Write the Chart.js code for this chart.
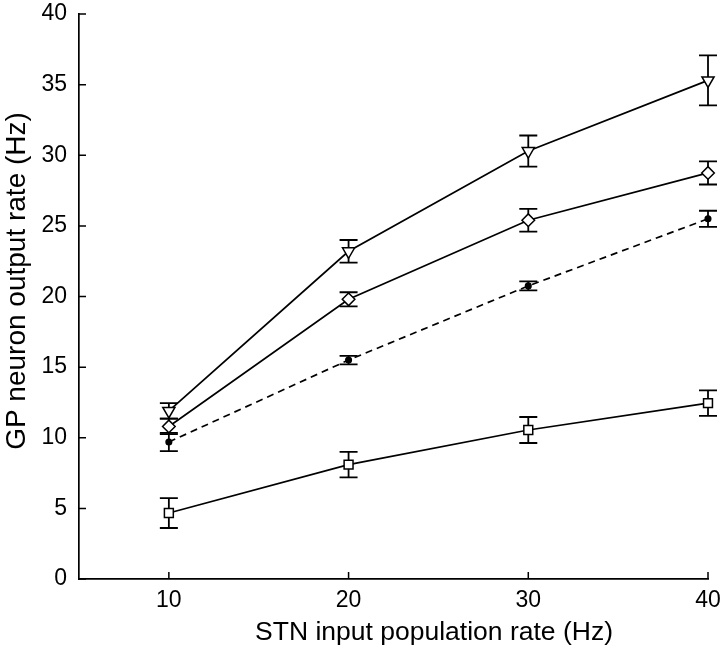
<!DOCTYPE html>
<html lang="en">
<head>
    <meta charset="UTF-8">
    <title>GP neuron output rate</title>
    <script src="https://cdn.jsdelivr.net/npm/chart.js"></script>
    <style>
        html, body { margin: 0; padding: 0; background: #fff; }
        #chartBox { width: 720px; height: 646px; }
    </style>
</head>
<body>
    <div id="chartBox">
        <canvas id="rateChart" width="720" height="646"></canvas>
    </div>

    <script>
    // STN input rates (x) and GP output rates (y)
    var stnRates = [10, 20, 30, 40];
    var xTicks = [10, 20, 30, 40];
    var yTicks = [0, 5, 10, 15, 20, 25, 30, 35, 40];
    var xTitle = 'STN input population rate (Hz)';
    var yTitle = 'GP neuron output rate (Hz)';

    var triangleMean = [11.9, 23.2, 30.3, 35.3];
    var triangleErr  = [0.55, 0.8, 1.1, 1.77];
    var diamondMean  = [10.8, 19.8, 25.4, 28.75];
    var diamondErr   = [0.55, 0.5, 0.8, 0.82];
    var dotMean      = [9.7, 15.5, 20.75, 25.5];
    var dotErr       = [0.65, 0.3, 0.32, 0.57];
    var squareMean   = [4.67, 8.1, 10.55, 12.45];
    var squareErr    = [1.06, 0.9, 0.92, 0.9];

    var fontFamily = "'Liberation Sans', Arial, sans-serif";
    Chart.defaults.font.family = fontFamily;
    Chart.defaults.color = '#000';

    function toPoints(means) {
        return stnRates.map(function(x, i) { return { x: x, y: means[i] }; });
    }

    function makeSeries(label, means, errs, style, radius, dashed) {
        return {
            label: label,
            data: toPoints(means),
            errors: errs,
            borderColor: '#000',
            borderWidth: 1.7,
            borderDash: dashed ? [7, 5] : [],
            pointStyle: style,
            pointRotation: style === 'triangle' ? 180 : 0,
            pointRadius: radius,
            pointBackgroundColor: style === 'circle' ? '#000' : '#fff',
            pointBorderColor: '#000',
            pointBorderWidth: 1.5,
            tension: 0,
            fill: false,
            clip: false
        };
    }

    // scales should not push the plot area around for their labels
    function noOverflow(scale) {
        scale.paddingLeft = 0;
        scale.paddingRight = 0;
        scale.paddingTop = 0;
        scale.paddingBottom = 0;
    }

    var errorBars = {
        id: 'errorBars',
        // vertical error bars with caps, behind the markers
        beforeDatasetsDraw: function(chart) {
            var ctx = chart.ctx;
            var xs = chart.scales.x, ys = chart.scales.y;
            ctx.save();
            ctx.strokeStyle = '#000';
            ctx.lineWidth = 1.8;
            ctx.setLineDash([]);
            chart.data.datasets.forEach(function(ds) {
                ds.data.forEach(function(p, i) {
                    var px = xs.getPixelForValue(p.x);
                    var top = ys.getPixelForValue(p.y + ds.errors[i]);
                    var bot = ys.getPixelForValue(p.y - ds.errors[i]);
                    ctx.beginPath();
                    ctx.moveTo(px, top); ctx.lineTo(px, bot);
                    ctx.moveTo(px - 9, top); ctx.lineTo(px + 9, top);
                    ctx.moveTo(px - 9, bot); ctx.lineTo(px + 9, bot);
                    ctx.stroke();
                });
            });
            ctx.restore();
        },
        // inward tick marks and the two axis titles
        afterDraw: function(chart) {
            var ctx = chart.ctx;
            var xs = chart.scales.x, ys = chart.scales.y;
            var area = chart.chartArea;
            ctx.save();
            ctx.strokeStyle = '#000';
            ctx.lineWidth = 1.5;
            ctx.beginPath();
            xTicks.forEach(function(v) {
                var px = xs.getPixelForValue(v);
                ctx.moveTo(px, area.bottom); ctx.lineTo(px, area.bottom - 7);
            });
            yTicks.forEach(function(v) {
                var py = ys.getPixelForValue(v);
                ctx.moveTo(area.left, py); ctx.lineTo(area.left + 7, py);
            });
            ctx.stroke();

            ctx.fillStyle = '#000';
            ctx.textAlign = 'center';
            ctx.textBaseline = 'middle';
            ctx.font = '26.5px ' + fontFamily;
            ctx.fillText(xTitle, 434, 633);
            ctx.translate(17, 281);
            ctx.rotate(-Math.PI / 2);
            ctx.font = '28px ' + fontFamily;
            ctx.fillText(yTitle, 0, 0);
            ctx.restore();
        }
    };

    var ctx = document.getElementById('rateChart').getContext('2d');
    var rateChart = new Chart(ctx, {
        type: 'line',
        data: {
            datasets: [
                makeSeries('triangle', triangleMean, triangleErr, 'triangle', 7, false),
                makeSeries('diamond', diamondMean, diamondErr, 'rectRot', 6.3, false),
                makeSeries('dot', dotMean, dotErr, 'circle', 2.8, true),
                makeSeries('square', squareMean, squareErr, 'rect', 6.3, false)
            ]
        },
        options: {
            responsive: false,
            animation: false,
            layout: { padding: { top: 14, right: 12, left: 0, bottom: 0 } },
            plugins: { legend: { display: false }, tooltip: { enabled: false } },
            scales: {
                x: {
                    type: 'linear',
                    min: 5,
                    max: 40,
                    afterBuildTicks: function(scale) {
                        scale.ticks = xTicks.map(function(v) { return { value: v }; });
                    },
                    afterFit: function(scale) { scale.height = 67; noOverflow(scale); },
                    grid: { display: false },
                    border: { display: true, color: '#000', width: 1.7 },
                    ticks: { font: { size: 23 }, padding: 0, maxRotation: 0 },
                    title: { display: false }
                },
                y: {
                    min: 0,
                    max: 40,
                    afterBuildTicks: function(scale) {
                        scale.ticks = yTicks.map(function(v) { return { value: v }; });
                    },
                    afterFit: function(scale) { scale.width = 79; noOverflow(scale); },
                    grid: { display: false },
                    border: { display: true, color: '#000', width: 1.7 },
                    ticks: { font: { size: 23 }, padding: 4 },
                    title: { display: false }
                }
            }
        },
        plugins: [errorBars]
    });
    </script>
</body>
</html>
